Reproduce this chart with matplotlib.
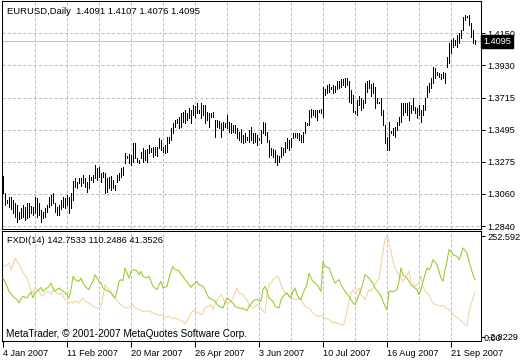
import numpy as np
import matplotlib
matplotlib.use('Agg')
import matplotlib.pyplot as plt
import matplotlib.transforms as mtransforms

plt.rcParams['font.family'] = ['Liberation Sans', 'DejaVu Sans']
plt.rcParams['font.size'] = 6.6

# EURUSD daily bars, 4 Jan 2007 -> end Sep 2007 (one bar per session)
high = [
    1.3180, 1.3065, 1.3017, 1.3037, 1.3037, 1.3017, 1.2997, 1.2983, 1.2935, 1.2963,
    1.2983, 1.2969, 1.2997, 1.2997, 1.2976, 1.2969, 1.3037, 1.3031, 1.2997, 1.2949,
    1.2935, 1.2963, 1.2983, 1.3037, 1.3051, 1.3065, 1.2997, 1.2969, 1.2983, 1.3017,
    1.3037, 1.3031, 1.3051, 1.3037, 1.3065, 1.3146, 1.3167, 1.3139, 1.3167,
    1.3167, 1.3187, 1.3167, 1.3139, 1.3187, 1.3173, 1.3187, 1.3255, 1.3235, 1.3241,
    1.3201, 1.3207, 1.3201, 1.3167, 1.3173, 1.3180, 1.3153, 1.3119, 1.3187, 1.3201,
    1.3235, 1.3241, 1.3337, 1.3316, 1.3330, 1.3323, 1.3405, 1.3405, 1.3303, 1.3289,
    1.3343, 1.3371, 1.3357, 1.3364, 1.3391, 1.3371, 1.3377, 1.3377, 1.3377, 1.3439,
    1.3425, 1.3377, 1.3391, 1.3445, 1.3445, 1.3507, 1.3541, 1.3561, 1.3568, 1.3581,
    1.3609, 1.3615, 1.3629, 1.3609, 1.3643, 1.3629, 1.3663, 1.3656, 1.3677, 1.3629,
    1.3677, 1.3663, 1.3663, 1.3615, 1.3609, 1.3609, 1.3615, 1.3561, 1.3561, 1.3554,
    1.3541, 1.3547, 1.3541, 1.3595, 1.3547, 1.3541, 1.3527, 1.3527, 1.3507, 1.3479,
    1.3500, 1.3459, 1.3473, 1.3445, 1.3493, 1.3513, 1.3473, 1.3473, 1.3459, 1.3439,
    1.3493, 1.3547, 1.3541, 1.3479, 1.3425, 1.3371, 1.3364, 1.3357, 1.3323, 1.3316,
    1.3377, 1.3371, 1.3411, 1.3439, 1.3425, 1.3439, 1.3473, 1.3473, 1.3473, 1.3473,
    1.3459, 1.3479, 1.3547, 1.3541, 1.3629, 1.3636, 1.3629, 1.3629, 1.3629, 1.3629,
    1.3636, 1.3785, 1.3772, 1.3799, 1.3806, 1.3785, 1.3799, 1.3792, 1.3826, 1.3826,
    1.3840, 1.3840, 1.3847, 1.3847, 1.3826, 1.3765, 1.3731, 1.3622, 1.3697, 1.3724,
    1.3711, 1.3697, 1.3813, 1.3826, 1.3833, 1.3806, 1.3813, 1.3785, 1.3711, 1.3683,
    1.3711, 1.3629, 1.3527, 1.3445, 1.3547, 1.3486, 1.3507, 1.3513, 1.3547, 1.3581,
    1.3677, 1.3677, 1.3677, 1.3677, 1.3683, 1.3663, 1.3711, 1.3649, 1.3643, 1.3663,
    1.3629, 1.3663, 1.3711, 1.3792, 1.3813, 1.3847, 1.3921, 1.3915, 1.3887, 1.3881,
    1.3874, 1.3887, 1.3881, 1.3989, 1.4085, 1.4105, 1.4119, 1.4105, 1.4139, 1.4153,
    1.4173, 1.4261, 1.4275, 1.4268, 1.4275, 1.4221, 1.4173, 1.4107,
]
low = [
    1.3065, 1.2983, 1.2997, 1.2969, 1.2956, 1.2929, 1.2901, 1.2867, 1.2888, 1.2895,
    1.2901, 1.2881, 1.2895, 1.2901, 1.2929, 1.2915, 1.2929, 1.2901, 1.2915, 1.2867,
    1.2895, 1.2901, 1.2935, 1.2969, 1.2983, 1.2997, 1.2935, 1.2915, 1.2915, 1.2956,
    1.2969, 1.2963, 1.2983, 1.2929, 1.2963, 1.3017, 1.3105, 1.3099, 1.3133,
    1.3112, 1.3133, 1.3105, 1.3071, 1.3099, 1.3153, 1.3139, 1.3167, 1.3153, 1.3173,
    1.3139, 1.3173, 1.3065, 1.3071, 1.3099, 1.3085, 1.3099, 1.3085, 1.3139, 1.3153,
    1.3173, 1.3187, 1.3269, 1.3303, 1.3269, 1.3255, 1.3275, 1.3303, 1.3275, 1.3269,
    1.3303, 1.3275, 1.3289, 1.3275, 1.3337, 1.3343, 1.3309, 1.3323, 1.3316, 1.3371,
    1.3357, 1.3343, 1.3337, 1.3343, 1.3405, 1.3425, 1.3473, 1.3513, 1.3541, 1.3507,
    1.3513, 1.3547, 1.3541, 1.3561, 1.3575, 1.3541, 1.3595, 1.3581, 1.3609, 1.3609,
    1.3575, 1.3595, 1.3541, 1.3561, 1.3513, 1.3581, 1.3581, 1.3445, 1.3513, 1.3507,
    1.3445, 1.3493, 1.3513, 1.3507, 1.3479, 1.3473, 1.3479, 1.3473, 1.3439, 1.3425,
    1.3411, 1.3405, 1.3411, 1.3425, 1.3411, 1.3425, 1.3405, 1.3411, 1.3391, 1.3425,
    1.3405, 1.3473, 1.3459, 1.3411, 1.3309, 1.3323, 1.3309, 1.3275, 1.3255, 1.3275,
    1.3309, 1.3323, 1.3343, 1.3371, 1.3357, 1.3377, 1.3439, 1.3445, 1.3439, 1.3425,
    1.3411, 1.3411, 1.3473, 1.3527, 1.3527, 1.3581, 1.3595, 1.3581, 1.3561, 1.3615,
    1.3609, 1.3581, 1.3731, 1.3745, 1.3751, 1.3772, 1.3745, 1.3751, 1.3772, 1.3779,
    1.3785, 1.3799, 1.3785, 1.3799, 1.3683, 1.3677, 1.3615, 1.3609, 1.3595, 1.3663,
    1.3629, 1.3643, 1.3677, 1.3751, 1.3779, 1.3724, 1.3745, 1.3643, 1.3677, 1.3677,
    1.3595, 1.3527, 1.3405, 1.3357, 1.3357, 1.3473, 1.3459, 1.3445, 1.3493, 1.3527,
    1.3547, 1.3595, 1.3615, 1.3595, 1.3561, 1.3609, 1.3629, 1.3609, 1.3575, 1.3595,
    1.3547, 1.3595, 1.3629, 1.3717, 1.3751, 1.3779, 1.3813, 1.3847, 1.3867, 1.3853,
    1.3840, 1.3847, 1.3813, 1.3921, 1.3949, 1.4017, 1.4057, 1.4071, 1.4057, 1.4085,
    1.4119, 1.4173, 1.4241, 1.4261, 1.4207, 1.4125, 1.4085, 1.4076,
]
last_price = 1.4095

price_ticks = [1.2840, 1.30583, 1.32767, 1.3495, 1.37133, 1.39317, 1.4150]
price_labels = ['1.2840', '1.3060', '1.3275', '1.3495', '1.3715', '1.3930', '1.4150']
date_labels = ['4 Jan 2007', '11 Feb 2007', '20 Mar 2007', '26 Apr 2007',
               '3 Jun 2007', '10 Jul 2007', '16 Aug 2007', '21 Sep 2007']

# FXDI(14) lines: bar index and value
green_bar = [0, 2, 3, 5, 7, 8, 9, 10, 12, 13, 14, 15, 16, 18, 19, 20, 21, 23, 24, 25,
             26, 27, 28, 30, 31, 32, 33, 34, 35, 36, 38, 39, 40, 41, 43, 44, 45, 46, 48, 49,
             50, 51, 53, 54, 55, 56, 57, 58, 59, 60, 61, 62, 63, 64, 65, 67, 68, 69, 70, 72,
             73, 74, 75, 77, 78, 79, 80, 82, 83, 84, 85, 86, 88, 89, 90, 91, 93, 94, 95, 96,
             97, 98, 100, 101, 102, 103, 105, 106, 107, 108, 110, 111, 112, 113, 115, 116, 117, 118, 120, 121,
             122, 123, 125, 126, 127, 129, 130, 131, 132, 133, 134, 135, 136, 138, 139, 140, 141, 142, 143, 144,
             145, 146, 147, 148, 149, 150, 152, 153, 154, 155, 157, 158, 159, 160, 161, 163, 164, 165, 166, 168,
             169, 170, 171, 173, 174, 175, 176, 178, 179, 180, 181, 183, 184, 185, 186, 188, 189, 190, 191, 192,
             193, 194, 195, 197, 198, 199, 200, 202, 203, 204, 205, 207, 208, 209, 210, 212, 213, 214, 215, 217,
             218, 219, 220, 221, 222, 223, 224, 225, 227, 228, 229, 230, 232, 233, 234, 235, 236]
green_val = [146.5, 125.4, 112.7, 100.1, 91.7, 83.2, 94.2, 100.1, 95.9, 104.3, 111.0, 95.9, 108.5, 116.9, 122.8, 112.7, 116.9, 125.4, 133.8, 121.2,
             112.7, 116.9, 121.2, 112.7, 108.5, 104.3, 95.9, 116.9, 150.7, 142.2, 138.0, 146.5, 133.8, 125.4, 116.9, 129.6, 138.0, 154.9, 138.0, 133.8,
             121.2, 116.9, 112.7, 108.5, 100.1, 95.9, 112.7, 138.0, 142.2, 139.7, 171.8, 159.1, 146.5, 163.3, 167.5, 165.0, 154.9, 163.3, 150.7, 146.5,
             150.7, 138.0, 125.4, 116.9, 129.6, 138.0, 121.2, 125.4, 146.5, 163.3, 176.0, 167.5, 165.0, 154.9, 150.7, 142.2, 129.6, 122.8, 129.6, 133.8,
             138.0, 129.6, 125.4, 116.9, 104.3, 95.9, 91.7, 87.4, 80.7, 74.8, 70.6, 83.2, 95.9, 91.7, 83.2, 74.8, 72.2, 70.6, 68.9, 66.4,
             63.8, 74.8, 87.4, 91.7, 91.7, 87.4, 116.9, 125.4, 112.7, 95.9, 91.7, 87.4, 74.8, 70.6, 91.7, 100.1, 104.3, 108.5, 100.1, 95.9,
             112.7, 121.2, 104.3, 95.9, 91.7, 108.5, 129.6, 159.1, 146.5, 138.0, 129.6, 121.2, 112.7, 188.6, 176.0, 171.8, 159.1, 146.5, 133.8, 142.2,
             129.6, 121.2, 112.7, 100.1, 91.7, 83.2, 79.0, 104.3, 116.9, 133.8, 154.9, 146.5, 138.0, 133.8, 121.2, 108.5, 100.1, 87.4, 74.8, 66.4,
             112.7, 112.7, 111.0, 116.9, 138.0, 171.8, 154.9, 146.5, 138.0, 129.6, 125.4, 116.9, 104.3, 116.9, 138.0, 171.8, 167.5, 176.0, 192.9, 180.2,
             163.3, 146.5, 138.0, 167.5, 188.6, 218.1, 213.9, 205.5, 201.3, 192.9, 205.5, 222.4, 209.7, 188.6, 171.8, 154.9, 142.8]

peach_bar = [0, 1, 3, 4, 5, 6, 7, 8, 9, 10, 12, 13, 14, 15, 16, 18, 19, 20, 21, 23,
             24, 25, 26, 28, 29, 30, 31, 33, 34, 35, 36, 38, 39, 40, 41, 43, 44, 45, 46, 48,
             49, 50, 51, 53, 54, 55, 56, 58, 59, 60, 61, 63, 64, 65, 66, 68, 69, 70, 71, 73,
             74, 75, 76, 78, 79, 80, 81, 83, 84, 85, 86, 88, 89, 90, 91, 93, 94, 95, 96, 98,
             99, 100, 101, 103, 104, 105, 106, 108, 109, 110, 111, 113, 114, 115, 116, 117, 118, 120, 121, 122,
             123, 125, 126, 127, 129, 130, 131, 132, 133, 134, 135, 137, 138, 139, 140, 141, 143, 144, 145, 146,
             148, 149, 150, 151, 153, 154, 155, 156, 158, 159, 160, 161, 163, 164, 165, 166, 168, 169, 170, 171,
             172, 173, 174, 175, 176, 178, 179, 180, 181, 183, 184, 185, 186, 188, 189, 190, 191, 192, 193, 194,
             195, 196, 198, 199, 200, 201, 203, 204, 205, 206, 208, 209, 210, 211, 213, 214, 215, 216, 218, 219,
             220, 221, 223, 224, 225, 226, 228, 229, 230, 231, 232, 233, 235, 236]
peach_val = [180.2, 176.0, 184.4, 167.5, 180.2, 197.1, 188.6, 180.2, 171.8, 159.1, 146.5, 129.6, 116.9, 108.5, 121.2, 112.7, 104.3, 100.1, 108.5, 112.7,
             104.3, 116.9, 112.7, 104.3, 108.5, 100.1, 91.7, 83.2, 85.8, 83.2, 89.1, 83.2, 91.7, 95.9, 87.4, 83.2, 79.0, 74.8, 72.2, 70.6,
             74.8, 100.1, 129.6, 116.9, 112.7, 104.3, 95.9, 83.2, 79.0, 74.8, 70.6, 72.2, 74.8, 79.0, 70.6, 66.4, 63.8, 62.1, 62.1, 63.8,
             60.5, 57.9, 55.4, 52.0, 53.7, 49.5, 47.0, 49.5, 45.3, 43.6, 45.3, 41.1, 38.5, 36.9, 30.1, 45.3, 57.9, 63.8, 62.1, 57.9,
             53.7, 57.9, 70.6, 74.8, 79.0, 66.4, 83.2, 95.9, 104.3, 95.9, 83.2, 83.2, 87.4, 95.9, 108.5, 121.2, 108.5, 104.3, 95.9, 91.7,
             79.0, 70.6, 74.8, 79.0, 70.6, 62.1, 57.9, 104.3, 129.6, 133.8, 142.2, 150.7, 146.5, 129.6, 116.9, 108.5, 104.3, 100.1, 94.2, 91.7,
             94.2, 91.7, 83.2, 74.8, 70.6, 63.8, 57.9, 53.7, 49.5, 52.0, 47.0, 45.3, 41.1, 36.9, 32.6, 34.3, 30.1, 28.4, 26.7, 36.9,
             62.1, 87.4, 108.5, 116.9, 108.5, 121.2, 104.3, 100.1, 91.7, 116.9, 112.7, 121.2, 129.6, 146.5, 180.2, 213.9, 243.4, 252.6, 239.2, 213.9,
             188.6, 171.8, 154.9, 146.5, 138.0, 146.5, 163.3, 138.0, 133.8, 125.4, 133.8, 150.7, 125.4, 112.7, 104.3, 91.7, 83.2, 79.0, 77.3, 74.8,
             77.3, 72.2, 66.4, 60.5, 53.7, 49.5, 43.6, 38.5, 32.6, 28.4, 25.9, 62.1, 95.9, 110.2]

ind_max = 252.5927
ind_min = -2.8229

W, H = 520, 360
fig = plt.figure(figsize=(W / 100, H / 100), dpi=100)
fig.patch.set_facecolor('white')
ax1 = fig.add_axes([2 / W, 1 - 228.5 / H, 479 / W, 227.5 / H])
ax2 = fig.add_axes([2 / W, 1 - 340.5 / H, 479 / W, 109.5 / H])

grid_kw = dict(color='#c0c0c0', linestyle=(0, (3, 2)), linewidth=0.75, zorder=0)
idx = np.arange(len(high))

# price panel
for g in range(16, len(high), 16):
    ax1.axvline(g, **grid_kw)
    ax2.axvline(g, **grid_kw)
for p in price_ticks:
    ax1.axhline(p, **grid_kw)
ax1.axhline(last_price, color='#c0c0c0', linewidth=0.75, zorder=0)
ax1.vlines(idx, low, high, color='black', linewidth=0.5, antialiased=False, zorder=2)

ax1.set_xlim(-0.5, 239)
ax1.set_ylim(1.2823, 1.4370)
ax1.yaxis.tick_right()
ax1.set_yticks(price_ticks)
ax1.set_yticklabels(price_labels)
ax1.tick_params(axis='y', length=3, width=0.75, pad=1.5, labelsize=6.6)
ax1.tick_params(axis='x', bottom=False, labelbottom=False)

tr1 = mtransforms.blended_transform_factory(ax1.transAxes, ax1.transData)
ax1.text(1.004, last_price, '1.4095', transform=tr1, color='white', fontsize=6.6,
         va='center', ha='left', clip_on=False, zorder=5,
         bbox=dict(boxstyle='square,pad=0.2', fc='black', ec='black'))
ax1.text(0.011, 0.955, 'EURUSD,Daily  1.4091 1.4107 1.4076 1.4095',
         transform=ax1.transAxes, fontsize=6.8, va='center', ha='left')

# indicator panel
ax2.plot(peach_bar, peach_val, color='#f5d2a2', linewidth=0.8, zorder=2)
ax2.plot(green_bar, green_val, color='#9acd32', linewidth=0.8, zorder=3)
ax2.set_xlim(-0.5, 239)
ax2.set_ylim(-11.7, 265.4)
ax2.yaxis.tick_right()
ax2.set_yticks([ind_max, ind_min])
ax2.set_yticklabels(['252.5927', '-2.8229'])
ax2.tick_params(axis='y', length=3, width=0.75, pad=1.5, labelsize=6.6)
tr2 = mtransforms.blended_transform_factory(ax2.transAxes, ax2.transData)
ax2.text(1.006, ind_min - 3, '0.00', transform=tr2, fontsize=6.6, va='center', ha='left', clip_on=False)

ax2.set_xticks(range(0, len(high), 32))
ax2.set_xticklabels(date_labels)
for lab in ax2.get_xticklabels():
    lab.set_horizontalalignment('left')
ax2.tick_params(axis='x', length=4, width=0.75, pad=2, labelsize=6.6)

ax2.text(0.011, 0.91, 'FXDI(14) 142.7533 110.2486 41.3526', transform=ax2.transAxes,
         fontsize=6.7, va='center', ha='left')
ax2.text(0.008, 0.06, 'MetaTrader, \u00a9 2001-2007 MetaQuotes Software Corp.', transform=ax2.transAxes,
         fontsize=7.2, va='center', ha='left')

for ax in (ax1, ax2):
    for s in ax.spines.values():
        s.set_color('black')
        s.set_linewidth(0.75)

fig.savefig('out.png', dpi=100)
